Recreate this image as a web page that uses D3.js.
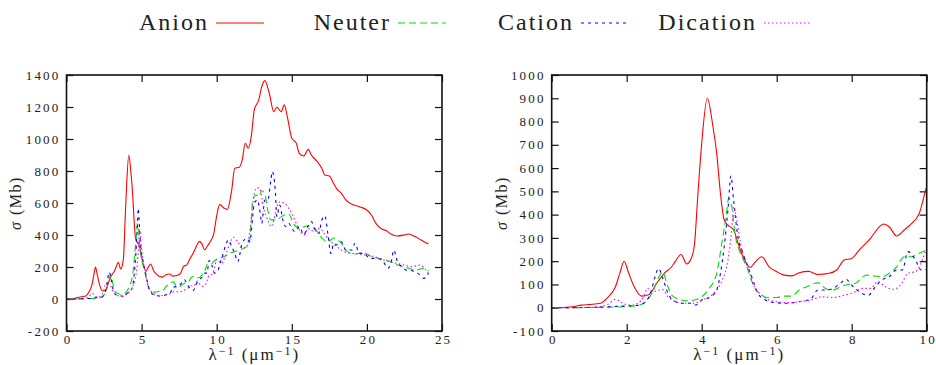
<!DOCTYPE html>
<html>
<head>
<meta charset="utf-8">
<style>
body { margin: 0; background: #fff; }
</style>
</head>
<body>
<svg id="chart" width="936" height="365"></svg>
<script src="https://d3js.org/d3.v7.min.js"></script>
<script>

// series: [x (1/um), sigma (Mb)]
const anion = [[0,0],[0.5,3],[0.8,11],[1.0,14],[1.3,19],[1.5,45],[1.7,90],[1.82,150],[1.93,200],[2.05,150],[2.2,90],[2.4,50],[2.6,57],[2.8,105],[3.0,148],[3.2,176],[3.3,200],[3.45,229],[3.6,188],[3.7,205],[3.8,262],[3.9,491],[4.0,706],[4.15,900],[4.3,778],[4.4,663],[4.5,491],[4.6,377],[4.7,355],[4.85,334],[5.0,262],[5.1,219],[5.3,173],[5.4,191],[5.6,219],[5.8,176],[6.0,155],[6.2,140],[6.4,137],[6.6,150],[6.85,156],[7.1,143],[7.4,148],[7.6,162],[7.8,205],[8.0,212],[8.2,248],[8.5,298],[8.7,341],[8.85,360],[9.0,348],[9.2,308],[9.4,334],[9.6,362],[9.8,405],[10.0,520],[10.2,590],[10.5,567],[10.7,560],[11.0,681],[11.2,817],[11.5,823],[11.7,869],[11.9,973],[12.1,942],[12.3,1015],[12.5,1181],[12.8,1244],[13.0,1327],[13.2,1365],[13.5,1286],[13.8,1171],[14.0,1198],[14.3,1171],[14.5,1213],[14.7,1140],[15.0,1004],[15.3,973],[15.5,910],[15.8,894],[16.1,935],[16.3,900],[16.7,858],[17.0,817],[17.2,775],[17.5,769],[17.8,719],[18.0,688],[18.3,660],[18.6,619],[19.0,592],[19.5,577],[20.0,556],[20.3,525],[20.6,473],[21.0,438],[21.3,427],[21.6,406],[22.0,394],[22.5,400],[22.8,406],[23.2,390],[23.6,369],[24.1,344]];

const neuter = [[0,0],[1,1],[2.0,5],[2.3,10],[2.5,25],[2.7,70],[2.85,130],[2.95,153],[3.1,90],[3.2,54],[3.4,36],[3.6,30],[3.8,33],[4.0,47],[4.2,83],[4.4,148],[4.55,291],[4.65,391],[4.72,470],[4.8,434],[4.9,305],[5.0,248],[5.2,176],[5.4,90],[5.6,54],[5.8,43],[6.0,44],[6.2,50],[6.4,50],[6.6,76],[6.8,90],[7.0,105],[7.1,107],[7.3,83],[7.5,76],[7.7,90],[7.9,100],[8.1,105],[8.3,133],[8.4,140],[8.6,136],[8.8,133],[9.0,148],[9.2,176],[9.4,219],[9.6,219],[9.8,234],[10,248],[10.5,265],[11,290],[11.5,306],[12,327],[12.2,369],[12.4,619],[12.6,650],[12.8,640],[13.0,677],[13.2,660],[13.4,556],[13.6,494],[14.0,498],[14.5,525],[14.8,531],[15.1,473],[15.5,442],[16,456],[16.5,442],[17.0,381],[17.4,358],[17.8,381],[18.2,358],[18.7,296],[19.2,281],[19.8,290],[20.3,265],[20.8,254],[21.3,244],[21.8,223],[22.3,206],[22.8,192],[23.3,181],[23.7,192],[24.1,177]];

const cation = [[0,0],[1.2,2],[2.0,8],[2.3,10],[2.5,25],[2.65,70],[2.75,130],[2.85,169],[2.95,133],[3.1,62],[3.3,26],[3.5,19],[3.7,19],[3.85,12],[4.0,33],[4.2,44],[4.4,76],[4.5,148],[4.6,262],[4.7,420],[4.78,566],[4.85,463],[4.95,320],[5.1,234],[5.3,148],[5.5,62],[5.7,33],[6.0,21],[6.3,19],[6.6,26],[6.9,36],[7.1,76],[7.3,76],[7.5,83],[7.7,105],[7.85,122],[8.0,97],[8.2,69],[8.45,54],[8.6,83],[8.8,119],[9.0,133],[9.2,162],[9.35,162],[9.5,241],[9.7,205],[9.85,162],[10,165],[10.3,244],[10.8,369],[11.0,327],[11.2,285],[11.4,233],[11.7,348],[12.0,379],[12.2,358],[12.4,515],[12.5,598],[12.7,619],[12.9,535],[13.0,473],[13.2,619],[13.4,619],[13.6,735],[13.7,796],[13.9,681],[14.0,515],[14.2,587],[14.4,494],[14.6,452],[14.8,473],[15.0,442],[15.2,421],[15.5,452],[15.8,400],[16.0,442],[16.3,484],[16.5,442],[16.8,410],[17.0,494],[17.2,519],[17.4,410],[17.6,285],[17.8,348],[18.0,338],[18.3,358],[18.6,306],[19.0,306],[19.2,348],[19.5,285],[19.8,285],[20.2,254],[20.5,254],[21.0,244],[21.4,192],[21.6,223],[21.8,306],[22.0,244],[22.3,202],[22.6,181],[23.0,177],[23.4,160],[23.8,129],[24.1,160]];

const dication = [[0,0],[1.0,1],[1.3,5],[1.5,15],[1.7,36],[1.9,19],[2.1,11],[2.3,19],[2.45,47],[2.55,83],[2.7,69],[2.95,79],[3.1,47],[3.3,26],[3.5,19],[3.8,19],[4.0,33],[4.2,47],[4.4,76],[4.55,119],[4.7,205],[4.8,334],[4.85,434],[4.95,363],[5.05,262],[5.2,191],[5.4,90],[5.6,54],[5.8,33],[6.0,26],[6.3,21],[6.6,26],[6.9,33],[7.2,47],[7.5,44],[7.8,54],[8.0,62],[8.3,83],[8.5,83],[8.7,112],[8.9,90],[9.1,79],[9.3,97],[9.5,148],[9.7,155],[9.85,191],[10.0,248],[10.3,223],[10.6,275],[10.9,352],[11.1,385],[11.4,358],[11.7,317],[12.0,327],[12.3,494],[12.5,660],[12.7,696],[12.9,681],[13.1,577],[13.4,494],[13.6,452],[13.8,494],[14.0,577],[14.2,608],[14.5,598],[14.8,567],[15.1,515],[15.4,452],[15.8,400],[16.1,442],[16.5,421],[16.8,442],[17.0,431],[17.3,390],[17.6,358],[18.0,327],[18.5,296],[19.0,285],[19.5,281],[20.0,275],[20.5,265],[21.0,248],[21.5,233],[22.0,223],[22.5,212],[23.0,202],[23.5,212],[24.1,160]];

const seriesNames = ["Anion", "Neuter", "Cation", "Dication"];
const seriesData = [anion, neuter, cation, dication];
const seriesColors = ["#ff0000", "#00e000", "#0000ff", "#ff00ff"];
const seriesDash = [null, "7,4", "3,4", "1.5,2.5"];

const leftXTicks = [0, 5, 10, 15, 20, 25];
const leftYTicks = [-200, 0, 200, 400, 600, 800, 1000, 1200, 1400];
const rightXTicks = [0, 2, 4, 6, 8, 10];
const rightYTicks = [-100, 0, 100, 200, 300, 400, 500, 600, 700, 800, 900, 1000];

const serif = "Liberation Serif";

const svg = d3.select("#chart");
svg.append("rect").attr("width", 936).attr("height", 365).attr("fill", "#fff");

const panels = [
    {id: "p0", left: 66.5, right: 442, xDom: [0, 25], yDom: [-200, 1400], xTicks: leftXTicks, yTicks: leftYTicks, ylabX: 16},
    {id: "p1", left: 551.7, right: 926.7, xDom: [0, 10], yDom: [-100, 1000], xTicks: rightXTicks, yTicks: rightYTicks, ylabX: 502}
];
const plotTop = 75, plotBottom = 331;

panels.forEach(p => {
    let x = d3.scaleLinear().domain(p.xDom).range([p.left, p.right]);
    let y = d3.scaleLinear().domain(p.yDom).range([plotBottom, plotTop]);

    svg.append("clipPath").attr("id", "clip-" + p.id)
        .append("rect")
        .attr("x", p.left).attr("y", plotTop)
        .attr("width", p.right - p.left).attr("height", plotBottom - plotTop);

    // axes with inward ticks
    let fmt = d => String(d);
    let gx = svg.append("g").attr("transform", "translate(0," + plotBottom + ")")
        .call(d3.axisBottom(x).tickValues(p.xTicks).tickSize(-7).tickPadding(4).tickFormat(fmt));
    let gy = svg.append("g").attr("transform", "translate(" + p.left + ",0)")
        .call(d3.axisLeft(y).tickValues(p.yTicks).tickSize(-7).tickPadding(6).tickFormat(fmt));
    let gt = svg.append("g").attr("transform", "translate(0," + plotTop + ")")
        .call(d3.axisTop(x).tickValues(p.xTicks).tickSize(-7).tickFormat(""));
    let gr = svg.append("g").attr("transform", "translate(" + p.right + ",0)")
        .call(d3.axisRight(y).tickValues(p.yTicks).tickSize(-7).tickFormat(""));

    [gx, gy, gt, gr].forEach(g => {
        g.select(".domain").remove();
        g.selectAll("line").attr("stroke", "#111").attr("stroke-width", 1.2);
        g.attr("font-family", serif).attr("font-size", 13);
        g.selectAll("text")
            .attr("fill", "#222")
            .attr("letter-spacing", 2.2);
    });
    gx.selectAll("text").attr("dy", "0.71em").attr("dx", 1.1);

    // curves
    let line = d3.line()
        .x(d => x(d[0]))
        .y(d => y(d[1]))
        .curve(d3.curveMonotoneX);

    let lines = svg.append("g").attr("clip-path", "url(#clip-" + p.id + ")");
    seriesData.forEach((s, i) => {
        lines.append("path")
            .datum(s)
            .attr("d", line)
            .attr("fill", "none")
            .attr("stroke", seriesColors[i])
            .attr("stroke-width", 1.1)
            .attr("stroke-dasharray", seriesDash[i]);
    });

    // frame
    svg.append("rect")
        .attr("x", p.left).attr("y", plotTop)
        .attr("width", p.right - p.left).attr("height", plotBottom - plotTop)
        .attr("fill", "none").attr("stroke", "#111").attr("stroke-width", 1.6);

    // axis labels
    let cx = (p.left + p.right) / 2;
    let xl = svg.append("text")
        .attr("x", cx).attr("y", 360)
        .attr("text-anchor", "middle")
        .attr("font-family", serif)
        .attr("font-size", 17)
        .attr("letter-spacing", 2)
        .attr("fill", "#222");
    xl.append("tspan").text("\u03bb");
    xl.append("tspan").attr("dy", -5).attr("font-size", 12).text("\u22121");
    xl.append("tspan").attr("dy", 5).text("  (\u03bcm");
    xl.append("tspan").attr("dy", -5).attr("font-size", 12).text("\u22121");
    xl.append("tspan").attr("dy", 5).text(")");

    let yl = svg.append("text")
        .attr("transform", "translate(" + (p.ylabX + 5) + "," + ((plotTop + plotBottom) / 2) + ") rotate(-90)")
        .attr("text-anchor", "middle")
        .attr("font-family", serif)
        .attr("font-size", 16)
        .attr("letter-spacing", 1.5)
        .attr("fill", "#222");
    yl.append("tspan").attr("font-style", "italic").text("\u03c3");
    yl.append("tspan").text(" (Mb)");
});

// legend
const legendEnds = [207, 389, 572, 755];
const legend = svg.append("g");
seriesNames.forEach((name, i) => {
    legend.append("text")
        .attr("x", legendEnds[i] + 2).attr("y", 30)
        .attr("text-anchor", "end")
        .attr("font-family", serif)
        .attr("font-size", 24)
        .attr("letter-spacing", 2)
        .attr("fill", "#222")
        .text(name);
    legend.append("line")
        .attr("x1", legendEnds[i] + 9).attr("x2", legendEnds[i] + 57)
        .attr("y1", 23).attr("y2", 23)
        .attr("stroke", seriesColors[i])
        .attr("stroke-width", 1.1)
        .attr("stroke-dasharray", seriesDash[i]);
});

</script>
</body>
</html>
